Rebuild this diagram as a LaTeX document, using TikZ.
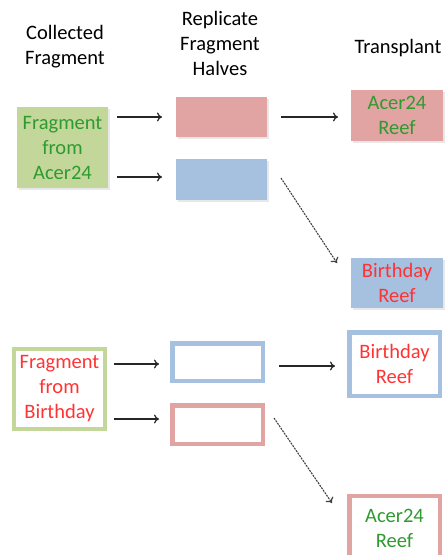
\documentclass[tikz,border=0pt]{standalone}
\usepackage{fontspec}
\setmainfont{Carlito}
\usetikzlibrary{arrows.meta}
\definecolor{leafgreen}{HTML}{C4D79B}
\definecolor{rosefill}{HTML}{E2A3A3}
\definecolor{skyfill}{HTML}{A6C0DF}
\definecolor{txtgreen}{HTML}{2F9A2F}
\definecolor{txtred}{HTML}{FF3333}
\tikzset{
  x=1pt, y=-1pt,
  lbl/.style={font=\fontsize{20.5}{25}\selectfont, align=center, inner sep=0pt},
  shade box/.style={fill=black!9},
  flow/.style={-{To[length=5pt,width=9pt,line width=1.2pt]}, line width=1.2pt, black!85},
  swap/.style={-{To[length=5pt,width=9pt,line width=1.2pt]}, line width=1.1pt, black!75,
               dash pattern=on 2pt off 1pt},
}
\begin{document}
\begin{tikzpicture}
\useasboundingbox (0,0) rectangle (446,555);
\clip (0,0) rectangle (446,555);
% column headings
\node[lbl] (hcol) at (65,47) {Collected\\Fragment};
\node[lbl] (hrep) at (220,43) {Replicate\\Fragment\\Halves};
\node[lbl] (htra) at (398,48) {Transplant};

% fragment from Acer24 and its filled halves / transplants
\fill[shade box] (19,109) rectangle (110,190);
\node[fill=leafgreen, lbl, text=txtgreen, minimum width=91pt, minimum height=81pt] (fa) at (62.5,147.5) {Fragment\\from\\Acer24};

\fill[shade box] (178,99) rectangle (269,139);
\node[fill=rosefill, minimum width=91pt, minimum height=40pt, inner sep=0pt] (ra) at (221.5,117) {};
\fill[shade box] (178,161) rectangle (269,202);
\node[fill=skyfill, minimum width=91pt, minimum height=41pt, inner sep=0pt] (rb) at (221.5,179.5) {};

\fill[shade box] (353,92) rectangle (445,143);
\node[fill=rosefill, lbl, text=txtgreen, minimum width=92pt, minimum height=51pt] (ta) at (397,115.5) {Acer24\\Reef};
\fill[shade box] (353,260) rectangle (445,310);
\node[fill=skyfill, lbl, text=txtred, minimum width=92pt, minimum height=50pt] (tb) at (397,283) {Birthday\\Reef};

% fragment from Birthday and its outlined halves / transplants
\node[draw=leafgreen, line width=4pt, lbl, text=txtred, minimum width=91pt, minimum height=80pt] (fb) at (59.5,389) {Fragment\\from\\Birthday};
\node[draw=skyfill, line width=4.5pt, minimum width=90.5pt, minimum height=37.5pt, inner sep=0pt] (sa) at (217.5,362) {};
\node[draw=rosefill, line width=4.5pt, minimum width=90.5pt, minimum height=38.5pt, inner sep=0pt] (sb) at (217.5,424.5) {};
\node[draw=skyfill, line width=4.5pt, lbl, text=txtred, minimum width=90.5pt, minimum height=63.5pt] (tc) at (394.5,364) {Birthday\\Reef};
\node[draw=rosefill, line width=4.5pt, lbl, text=txtgreen, minimum width=90.5pt, minimum height=64pt] (td) at (394.5,528) {Acer24\\Reef};

% connectors
\coordinate (a1) at (117,117); \coordinate (a1e) at (162,117);
\coordinate (a2) at (117,177); \coordinate (a2e) at (162,177);
\draw[flow] (a1) -- (a1e);
\draw[flow] (a2) -- (a2e);
\coordinate (b1) at (281,117); \coordinate (b1e) at (338,117);
\draw[flow] (b1) -- (b1e);
\coordinate (c1) at (281,178); \coordinate (c2) at (337,263);
\draw[swap] (c1) -- (c2);

\coordinate (d1) at (114,364); \coordinate (d1e) at (159,364);
\coordinate (d2) at (114,419); \coordinate (d2e) at (159,419);
\draw[flow] (d1) -- (d1e);
\draw[flow] (d2) -- (d2e);
\coordinate (f1) at (279,366); \coordinate (f1e) at (335,366);
\draw[flow] (f1) -- (f1e);
\coordinate (e1) at (274,418); \coordinate (e2) at (332,503);
\draw[swap] (e1) -- (e2);
\end{tikzpicture}
\end{document}
